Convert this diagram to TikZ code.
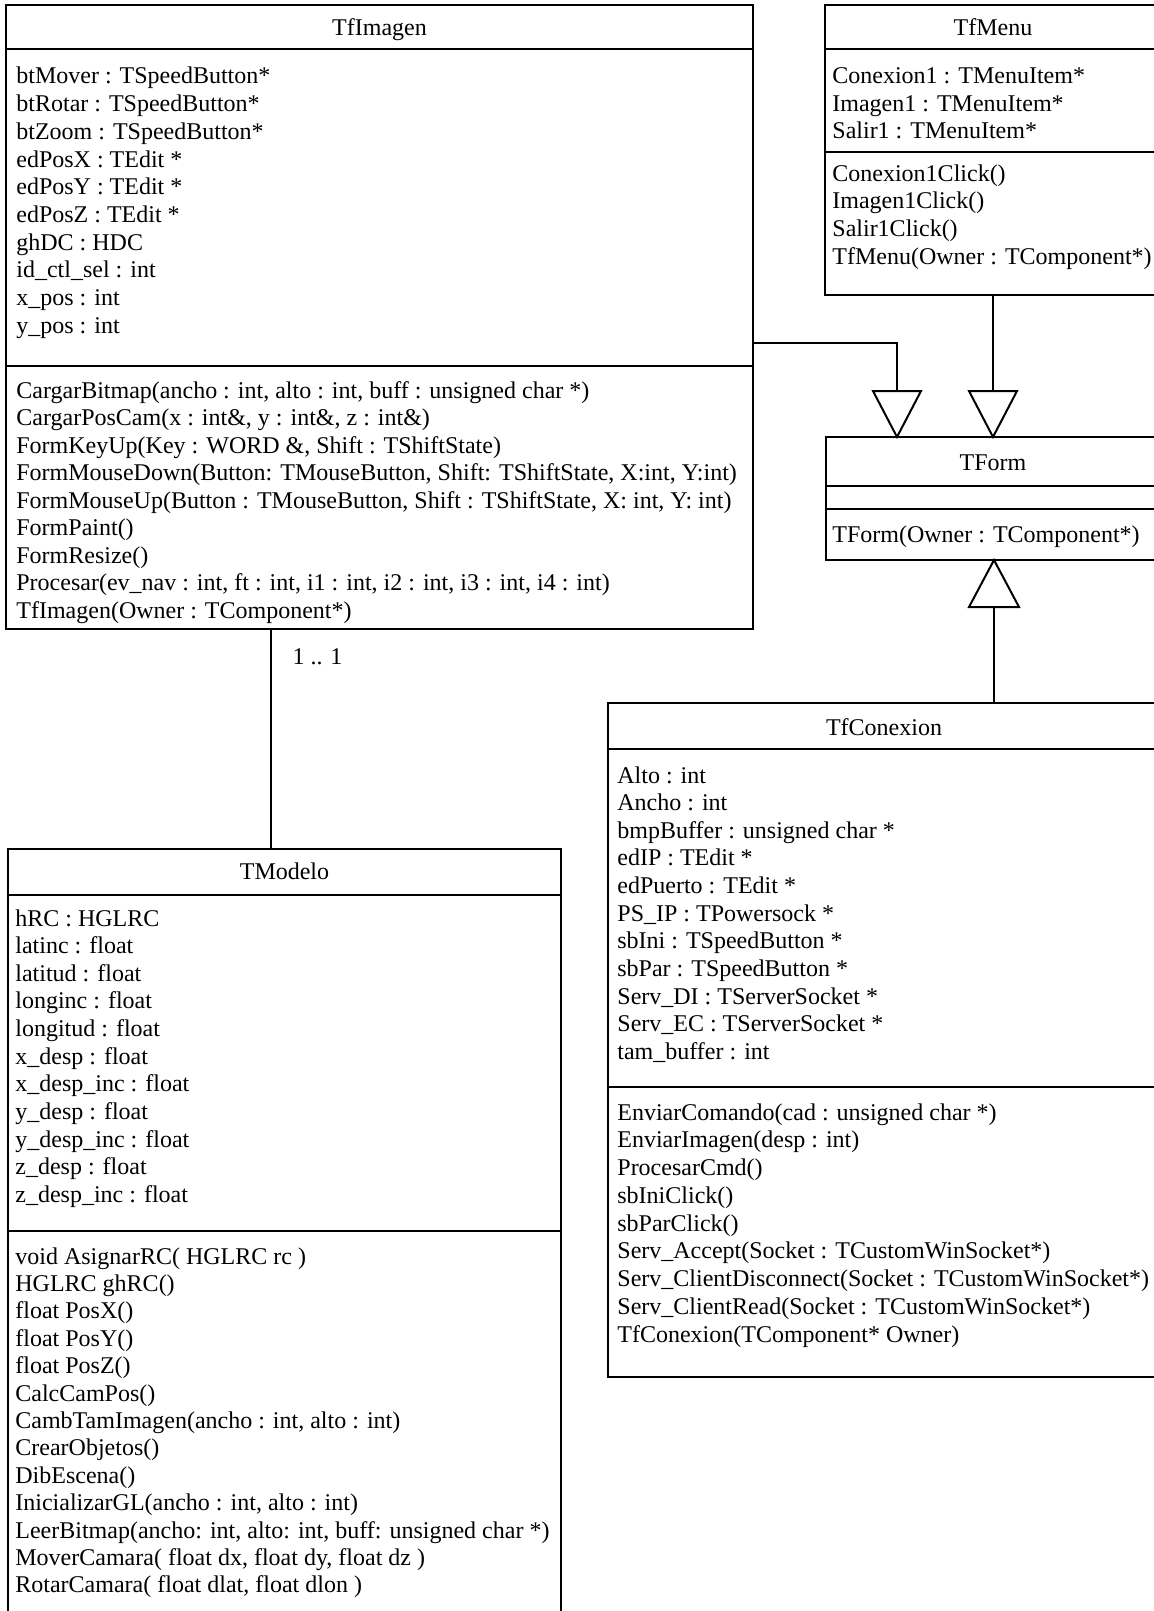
\documentclass[tikz,border=0pt]{standalone}
\usepackage{fontspec}
\setmainfont{Liberation Serif}
\usetikzlibrary{calc}

\tikzset{
  classbox/.style={draw, line width=1pt},
  member/.style={anchor=base west, inner sep=0pt, font=\fontsize{12}{14}\selectfont},
  ctitle/.style={anchor=base, inner sep=0pt, font=\fontsize{12}{14}\selectfont},
  link/.style={line width=0.8pt},
  genhead/.style={draw, line width=1pt, fill=white, line join=miter}
}

\begin{document}
\begin{tikzpicture}[x=0.5pt, y=-0.5pt]
    \useasboundingbox (0,0) rectangle (1154,1611);
    \fill[white] (0,0) rectangle (1154,1611);
    \clip (0,0) rectangle (1154,1611);

    % TfImagen
    \draw[classbox] (6,5) rectangle (753,629);
    \draw[classbox] (6,49) -- (753,49);
    \draw[classbox] (6,366) -- (753,366);
    \node[ctitle] (imagen) at (379.5,36) {TfImagen};
    \foreach \t [count=\i from 0] in {{btMover : TSpeedButton*}, {btRotar : TSpeedButton*},
        {btZoom : TSpeedButton*}, {edPosX : TEdit *}, {edPosY : TEdit *}, {edPosZ : TEdit *},
        {ghDC : HDC}, {id\_ctl\_sel : int}, {x\_pos : int}, {y\_pos : int}}
      \node[member] (imagen-a\i) at (16,{84+27.7*\i}) {\t};
    \foreach \t [count=\i from 0] in {{CargarBitmap(ancho : int, alto : int, buff : unsigned char *)},
        {CargarPosCam(x : int\&, y : int\&, z : int\&)}, {FormKeyUp(Key : WORD \&, Shift : TShiftState)},
        {FormMouseDown(Button: TMouseButton, Shift: TShiftState, X:int, Y:int)},
        {FormMouseUp(Button : TMouseButton, Shift : TShiftState, X: int, Y: int)},
        {FormPaint()}, {FormResize()}, {Procesar(ev\_nav : int, ft : int, i1 : int, i2 : int, i3 : int, i4 : int)},
        {TfImagen(Owner : TComponent*)}}
      \node[member] (imagen-m\i) at (16,{398.5+27.45*\i}) {\t};

    % TModelo
    \draw[classbox] (8,849) rectangle (561,1625);
    \draw[classbox] (8,895) -- (561,895);
    \draw[classbox] (8,1231) -- (561,1231);
    \node[ctitle] (modelo) at (284.5,879) {TModelo};
    \foreach \t [count=\i from 0] in {{hRC : HGLRC}, {latinc : float}, {latitud : float},
        {longinc : float}, {longitud : float}, {x\_desp : float}, {x\_desp\_inc : float},
        {y\_desp : float}, {y\_desp\_inc : float}, {z\_desp : float}, {z\_desp\_inc : float}}
      \node[member] (modelo-a\i) at (15,{926+27.64*\i}) {\t};
    \foreach \t [count=\i from 0] in {{void AsignarRC( HGLRC rc )}, {HGLRC ghRC()}, {float PosX()},
        {float PosY()}, {float PosZ()}, {CalcCamPos()}, {CambTamImagen(ancho : int, alto : int)},
        {CrearObjetos()}, {DibEscena()}, {InicializarGL(ancho : int, alto : int)},
        {LeerBitmap(ancho: int, alto: int, buff: unsigned char *)},
        {MoverCamara( float dx, float dy, float dz )}, {RotarCamara( float dlat, float dlon )}}
      \node[member] (modelo-m\i) at (15,{1264+27.4*\i}) {\t};

    % TfMenu
    \draw[classbox] (825,5) rectangle (1161,295);
    \draw[classbox] (825,49) -- (1161,49);
    \draw[classbox] (825,152) -- (1161,152);
    \node[ctitle] (menu) at (993,36) {TfMenu};
    \foreach \t [count=\i from 0] in {{Conexion1 : TMenuItem*}, {Imagen1 : TMenuItem*}, {Salir1 : TMenuItem*}}
      \node[member] (menu-a\i) at (832,{84+27.2*\i}) {\t};
    \foreach \t [count=\i from 0] in {{Conexion1Click()}, {Imagen1Click()}, {Salir1Click()},
        {TfMenu(Owner : TComponent*)}}
      \node[member] (menu-m\i) at (832,{181+27.7*\i}) {\t};

    % TForm
    \draw[classbox] (826,437) rectangle (1161,560);
    \draw[classbox] (826,486) -- (1161,486);
    \draw[classbox] (826,509) -- (1161,509);
    \node[ctitle] (form) at (993,470) {TForm};
    \node[member] (form-m0) at (832,542) {TForm(Owner : TComponent*)};

    % TfConexion
    \draw[classbox] (608,703) rectangle (1161,1377);
    \draw[classbox] (608,749) -- (1161,749);
    \draw[classbox] (608,1087) -- (1161,1087);
    \node[ctitle] (conexion) at (884,735) {TfConexion};
    \foreach \t [count=\i from 0] in {{Alto : int}, {Ancho : int}, {bmpBuffer : unsigned char *},
        {edIP : TEdit *}, {edPuerto : TEdit *}, {PS\_IP : TPowersock *}, {sbIni : TSpeedButton *},
        {sbPar : TSpeedButton *}, {Serv\_DI : TServerSocket *}, {Serv\_EC : TServerSocket *},
        {tam\_buffer : int}}
      \node[member] (conexion-a\i) at (617,{783+27.64*\i}) {\t};
    \foreach \t [count=\i from 0] in {{EnviarComando(cad : unsigned char *)}, {EnviarImagen(desp : int)},
        {ProcesarCmd()}, {sbIniClick()}, {sbParClick()}, {Serv\_Accept(Socket : TCustomWinSocket*)},
        {Serv\_ClientDisconnect(Socket : TCustomWinSocket*)}, {Serv\_ClientRead(Socket : TCustomWinSocket*)},
        {TfConexion(TComponent* Owner)}}
      \node[member] (conexion-m\i) at (617,{1120+27.75*\i}) {\t};

    % connector points
    \coordinate (imagen-e) at (753,343);
    \coordinate (imagen-s) at (271,629);
    \coordinate (modelo-n) at (271,849);
    \coordinate (menu-s) at (993,295);
    \coordinate (gen-img) at (897,437);
    \coordinate (gen-menu) at (993,437);
    \coordinate (gen-con) at (994,560);
    \coordinate (conexion-n) at (994,703);

    % association
    \draw[link] (imagen-s) -- (modelo-n);
    \node[ctitle] (mult) at (317.5,664) {1 .. 1};

    % generalizations
    \draw[link] (imagen-e) -| ($(gen-img)+(0,-46)$);
    \draw[link] (menu-s) -- ($(gen-menu)+(0,-46)$);
    \draw[link] (conexion-n) -- ($(gen-con)+(0,47)$);
    \draw[genhead] (gen-img) -- ++(-24,-46) -- ++(48,0) -- cycle;
    \draw[genhead] (gen-menu) -- ++(-24,-46) -- ++(48,0) -- cycle;
    \draw[genhead] (gen-con) -- ++(-25,47) -- ++(50,0) -- cycle;
\end{tikzpicture}
\end{document}
